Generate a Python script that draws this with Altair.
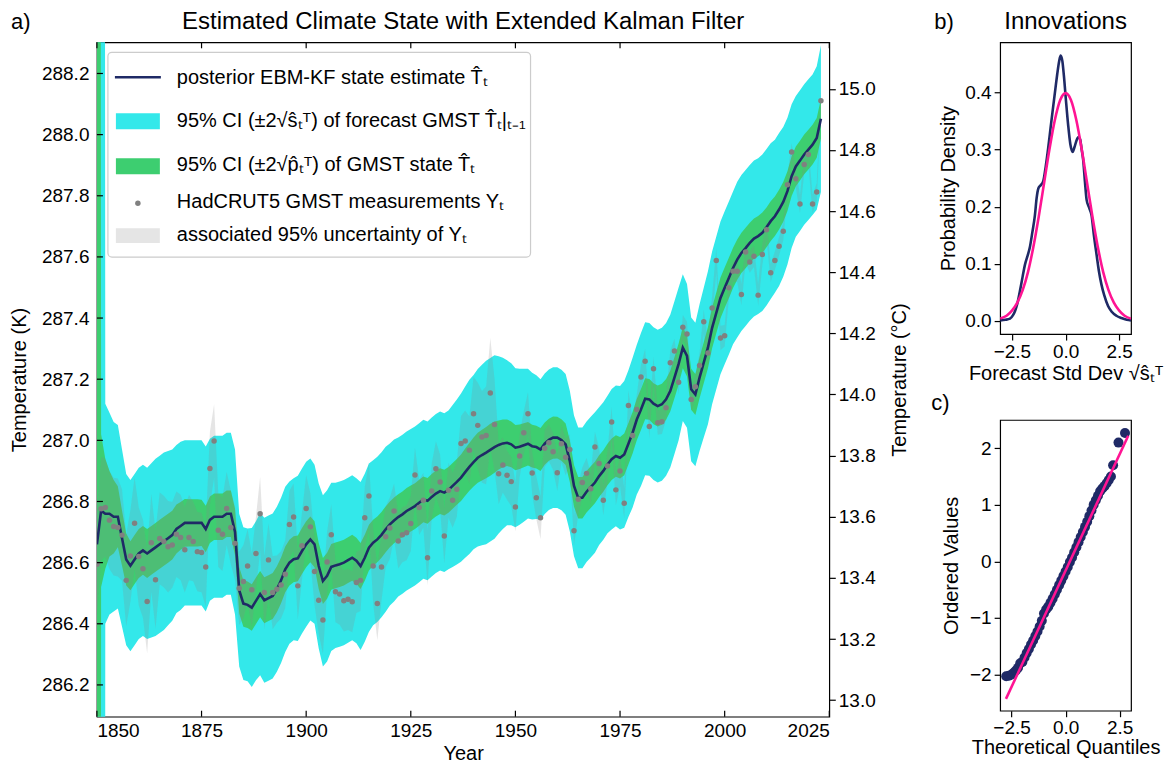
import altair as alt
import pandas as pd

FONT = "Liberation Sans"
NAVY = "#1f2a66"
CYAN = "#33e8ea"
GREEN = "#3dce70"
MAGENTA = "#ff1493"
DOTGRAY = "#808080"

# ---------------- data ----------------
years = list(range(1850, 2024))

state = [
    286.66, 286.77, 286.76, 286.76, 286.75, 286.75, 286.68, 286.61, 286.59, 286.61,
    286.63, 286.64, 286.63, 286.64, 286.65, 286.66, 286.67, 286.68, 286.69, 286.71,
    286.72, 286.73, 286.73, 286.73, 286.73, 286.73, 286.71, 286.74, 286.75, 286.75,
    286.75, 286.76, 286.76, 286.70, 286.51, 286.466, 286.462, 286.453, 286.475, 286.497,
    286.477, 286.484, 286.491, 286.513, 286.542, 286.578, 286.600, 286.611, 286.614, 286.638,
    286.660, 286.676, 286.660, 286.589, 286.540, 286.557, 286.586, 286.591, 286.595, 286.600,
    286.608, 286.616, 286.606, 286.589, 286.616, 286.649, 286.665, 286.676, 286.691, 286.709,
    286.725, 286.738, 286.749, 286.758, 286.769, 286.777, 286.785, 286.796, 286.807, 286.802,
    286.815, 286.826, 286.834, 286.829, 286.838, 286.851, 286.864, 286.878, 286.896, 286.913,
    286.929, 286.943, 286.952, 286.960, 286.969, 286.978, 286.985, 286.990, 286.992, 286.987,
    286.976, 286.979, 286.984, 286.989, 286.981, 286.978, 286.970, 286.989, 287.002, 287.009,
    287.009, 287.001, 286.987, 286.932, 286.851, 286.812, 286.812, 286.832, 286.847, 286.862,
    286.883, 286.900, 286.921, 286.938, 286.949, 286.943, 286.954, 286.989, 287.025, 287.068,
    287.101, 287.136, 287.134, 287.120, 287.112, 287.118, 287.134, 287.161, 287.205, 287.250,
    287.303, 287.276, 287.167, 287.150, 287.205, 287.254, 287.303, 287.368, 287.417, 287.466,
    287.499, 287.531, 287.564, 287.591, 287.613, 287.629, 287.646, 287.660, 287.668, 287.679,
    287.697, 287.717, 287.733, 287.755, 287.780, 287.815, 287.864, 287.896, 287.915, 287.935,
    287.951, 287.967, 287.989, 288.052,
]

meas = [
    286.595, 286.776, 286.780, 286.739, 286.718, 286.715, 286.690, 286.542, 286.622, 286.729,
    286.620, 286.580, 286.473, 286.665, 286.544, 286.679, 286.669, 286.652, 286.658, 286.693,
    286.682, 286.642, 286.682, 286.669, 286.636, 286.633, 286.586, 286.908, 286.998, 286.706,
    286.693, 286.777, 286.715, 286.663, 286.516, 286.538, 286.589, 286.511, 286.630, 286.760,
    286.502, 286.609, 286.502, 286.513, 286.527, 286.562, 286.725, 286.749, 286.524, 286.655,
    286.777, 286.717, 286.571, 286.477, 286.412, 286.602, 286.691, 286.505, 286.497, 286.475,
    286.480, 286.472, 286.535, 286.542, 286.747, 286.818, 286.589, 286.466, 286.586, 286.685,
    286.713, 286.769, 286.671, 286.691, 286.698, 286.728, 286.887, 286.780, 286.804, 286.616,
    286.834, 286.907, 286.864, 286.687, 286.837, 286.804, 286.840, 286.990, 286.998, 286.968,
    287.087, 287.049, 287.011, 287.016, 287.155, 287.052, 286.891, 286.919, 286.886, 286.865,
    286.782, 286.949, 287.025, 287.087, 286.893, 286.812, 286.747, 286.974, 286.992, 286.963,
    286.894, 286.989, 286.945, 286.970, 286.704, 286.807, 286.862, 286.892, 286.842, 286.978,
    286.924, 286.804, 286.916, 287.060, 286.838, 286.900, 286.794, 287.114, 287.016, 287.101,
    287.207, 287.259, 287.045, 287.234, 287.058, 287.061, 287.107, 287.254, 287.292, 287.190,
    287.370, 287.348, 287.134, 287.175, 287.245, 287.388, 287.286, 287.433, 287.588, 287.335,
    287.342, 287.499, 287.553, 287.553, 287.477, 287.616, 287.583, 287.602, 287.475, 287.608,
    287.689, 287.548, 287.588, 287.635, 287.684, 287.836, 287.943, 287.856, 287.773, 287.902,
    287.935, 287.773, 287.812, 288.111,
]

# half-width of the grey 95% measurement uncertainty
meas_unc = [
    0.17, 0.17, 0.16, 0.16, 0.16, 0.16, 0.15, 0.15, 0.15, 0.15,
    0.16, 0.16, 0.17, 0.16, 0.16, 0.15, 0.15, 0.15, 0.14, 0.14,
    0.14, 0.14, 0.14, 0.13, 0.13, 0.13, 0.13, 0.12, 0.12, 0.12,
    0.12, 0.12, 0.12, 0.12, 0.12, 0.12, 0.12, 0.12, 0.12, 0.12,
    0.12, 0.12, 0.12, 0.11, 0.11, 0.11, 0.11, 0.11, 0.11, 0.11,
    0.11, 0.11, 0.11, 0.11, 0.11, 0.10, 0.10, 0.10, 0.10, 0.10,
    0.10, 0.10, 0.10, 0.10, 0.10, 0.11, 0.12, 0.12, 0.11, 0.10,
    0.10, 0.09, 0.09, 0.09, 0.09, 0.09, 0.09, 0.09, 0.09, 0.09,
    0.09, 0.09, 0.09, 0.09, 0.09, 0.09, 0.09, 0.09, 0.10, 0.11,
    0.12, 0.14, 0.15, 0.16, 0.18, 0.15, 0.10, 0.09, 0.08, 0.08,
    0.08, 0.07, 0.07, 0.07, 0.07, 0.07, 0.07, 0.06, 0.06, 0.06,
    0.06, 0.06, 0.06, 0.05, 0.05, 0.05, 0.05, 0.05, 0.05, 0.05,
    0.05, 0.05, 0.05, 0.05, 0.05, 0.05, 0.05, 0.05, 0.05, 0.05,
    0.04, 0.04, 0.04, 0.04, 0.04, 0.04, 0.04, 0.04, 0.04, 0.04,
    0.04, 0.04, 0.04, 0.04, 0.04, 0.04, 0.04, 0.04, 0.04, 0.04,
    0.035, 0.035, 0.035, 0.035, 0.035, 0.035, 0.035, 0.035, 0.035, 0.035,
    0.03, 0.03, 0.03, 0.03, 0.03, 0.03, 0.03, 0.03, 0.03, 0.03,
    0.03, 0.03, 0.03, 0.03,
]

# half-width of the green state CI (2*sqrt(p))
state_ci = [
    20.0, 0.25, 0.18, 0.14, 0.12, 0.10, 0.09, 0.085, 0.08, 0.08,
    0.08, 0.08, 0.08, 0.08, 0.08, 0.08, 0.08, 0.08, 0.08, 0.08,
    0.078, 0.078, 0.077, 0.077, 0.077, 0.076, 0.076, 0.076, 0.076, 0.076,
    0.076, 0.076, 0.076, 0.076, 0.076, 0.076, 0.076, 0.076, 0.076, 0.076,
    0.075, 0.075, 0.075, 0.075, 0.075, 0.075, 0.075, 0.075, 0.075, 0.075,
    0.075, 0.075, 0.075, 0.075, 0.075, 0.075, 0.075, 0.075, 0.075, 0.075,
    0.075, 0.075, 0.075, 0.075, 0.075, 0.075, 0.075, 0.075, 0.075, 0.075,
    0.075, 0.075, 0.075, 0.075, 0.075, 0.075, 0.075, 0.075, 0.075, 0.075,
    0.075, 0.075, 0.075, 0.075, 0.075, 0.075, 0.075, 0.076, 0.077, 0.078,
    0.080, 0.082, 0.083, 0.084, 0.085, 0.084, 0.080, 0.078, 0.076, 0.075,
    0.074, 0.073, 0.072, 0.071, 0.070, 0.070, 0.070, 0.069, 0.069, 0.069,
    0.068, 0.068, 0.068, 0.068, 0.068, 0.068, 0.068, 0.068, 0.068, 0.068,
    0.068, 0.068, 0.068, 0.068, 0.068, 0.068, 0.068, 0.068, 0.068, 0.068,
    0.067, 0.067, 0.067, 0.067, 0.067, 0.067, 0.067, 0.067, 0.067, 0.067,
    0.067, 0.067, 0.067, 0.067, 0.067, 0.067, 0.067, 0.067, 0.067, 0.067,
    0.066, 0.066, 0.066, 0.066, 0.066, 0.066, 0.066, 0.066, 0.066, 0.066,
    0.065, 0.065, 0.065, 0.065, 0.065, 0.065, 0.065, 0.065, 0.065, 0.065,
    0.065, 0.065, 0.065, 0.065,
]

# half-width of the cyan forecast CI (2*sqrt(s))
fc_ci = [
    20.0, 20.0, 0.36, 0.33, 0.31, 0.30, 0.29, 0.28, 0.28, 0.28,
    0.28, 0.28, 0.28, 0.285, 0.29, 0.29, 0.29, 0.285, 0.28, 0.275,
    0.275, 0.27, 0.27, 0.27, 0.27, 0.27, 0.27, 0.265, 0.265, 0.265,
    0.265, 0.265, 0.265, 0.27, 0.25, 0.25, 0.25, 0.26, 0.26, 0.265,
    0.27, 0.27, 0.27, 0.27, 0.27, 0.27, 0.265, 0.265, 0.27, 0.27,
    0.27, 0.265, 0.26, 0.27, 0.28, 0.28, 0.275, 0.27, 0.27, 0.27,
    0.27, 0.27, 0.27, 0.275, 0.275, 0.275, 0.27, 0.27, 0.27, 0.27,
    0.265, 0.265, 0.26, 0.26, 0.26, 0.26, 0.26, 0.26, 0.26, 0.26,
    0.26, 0.26, 0.26, 0.26, 0.26, 0.265, 0.27, 0.275, 0.28, 0.285,
    0.285, 0.29, 0.295, 0.30, 0.30, 0.30, 0.29, 0.28, 0.27, 0.265,
    0.26, 0.255, 0.25, 0.245, 0.24, 0.235, 0.23, 0.23, 0.23, 0.23,
    0.23, 0.23, 0.23, 0.23, 0.23, 0.23, 0.23, 0.23, 0.23, 0.23,
    0.225, 0.225, 0.225, 0.23, 0.23, 0.235, 0.24, 0.24, 0.245, 0.245,
    0.25, 0.25, 0.25, 0.25, 0.25, 0.25, 0.25, 0.25, 0.25, 0.25,
    0.24, 0.235, 0.235, 0.235, 0.24, 0.245, 0.25, 0.25, 0.25, 0.25,
    0.25, 0.25, 0.25, 0.255, 0.255, 0.255, 0.255, 0.255, 0.255, 0.256,
    0.256, 0.255, 0.25, 0.25, 0.245, 0.24, 0.235, 0.23, 0.23, 0.23,
    0.23, 0.23, 0.235, 0.24,
]

x_ticks = [1850, 1875, 1900, 1925, 1950, 1975, 2000, 2025]
k_ticks = [286.2, 286.4, 286.6, 286.8, 287.0, 287.2, 287.4, 287.6, 287.8, 288.0, 288.2]
c_ticks = [13.0, 13.2, 13.4, 13.6, 13.8, 14.0, 14.2, 14.4, 14.6, 14.8, 15.0]
k_domain = [286.096, 288.302]
c_domain = [286.096 - 273.15, 288.302 - 273.15]

# panel b: kernel density of innovations and standard normal reference
kde_x = [-3.05, -2.8, -2.59, -2.45, -2.36, -2.25, -2.13, -2.0, -1.89, -1.78, -1.66, -1.55,
         -1.43, -1.35, -1.27, -1.15, -1.04, -0.92, -0.81, -0.7, -0.58, -0.48, -0.39, -0.3,
         -0.23, -0.15, -0.08, 0.02, 0.12, 0.22, 0.33, 0.42, 0.51, 0.6, 0.68, 0.75, 0.82,
         0.9, 0.98, 1.1, 1.21, 1.32, 1.44, 1.55, 1.67, 1.8, 1.98, 2.15, 2.37, 2.6, 2.85, 3.05]
kde_y = [0.001, 0.002, 0.004, 0.010, 0.017, 0.030, 0.052, 0.078, 0.099, 0.113, 0.130, 0.155,
         0.185, 0.215, 0.232, 0.238, 0.245, 0.272, 0.303, 0.338, 0.375, 0.405, 0.432, 0.455,
         0.465, 0.455, 0.430, 0.385, 0.343, 0.310, 0.296, 0.305, 0.316, 0.322, 0.318, 0.300,
         0.282, 0.245, 0.212, 0.198, 0.185, 0.150, 0.117, 0.088, 0.064, 0.045, 0.026, 0.016,
         0.009, 0.005, 0.002, 0.001]
norm_x = [-3.05, -2.75, -2.5, -2.25, -2.0, -1.75, -1.5, -1.25, -1.0, -0.75, -0.5, -0.25, 0.0,
          0.25, 0.5, 0.75, 1.0, 1.25, 1.5, 1.75, 2.0, 2.25, 2.5, 2.75, 3.05]
norm_y = [0.004, 0.009, 0.018, 0.032, 0.054, 0.086, 0.130, 0.183, 0.242, 0.301, 0.352, 0.387,
          0.399, 0.387, 0.352, 0.301, 0.242, 0.183, 0.130, 0.086, 0.054, 0.032, 0.018, 0.009,
          0.004]

# panel c: QQ plot
qq_q = [-2.75, -2.62, -2.5, -2.4, -2.3, -2.2, -2.1, -2.0, -1.9, -1.8, -1.7, -1.6, -1.5, -1.4,
        -1.3, -1.2, -1.1, -1.0, -0.9, -0.8, -0.7, -0.6, -0.5, -0.4, -0.3, -0.2, -0.1, 0.0,
        0.1, 0.2, 0.3, 0.4, 0.5, 0.6, 0.7, 0.8, 0.9, 1.0, 1.1, 1.2, 1.3, 1.4, 1.5, 1.6, 1.7,
        1.8, 1.9, 2.0, 2.1, 2.2, 2.45, 2.75]
qq_v = [-2.03, -2.02, -2.0, -1.97, -1.93, -1.88, -1.80, -1.78, -1.70, -1.62, -1.55, -1.47,
        -1.40, -1.32, -1.24, -1.15, -1.05, -0.92, -0.85, -0.80, -0.73, -0.66, -0.58, -0.50,
        -0.42, -0.34, -0.26, -0.18, -0.10, -0.01, 0.07, 0.16, 0.25, 0.34, 0.43, 0.52, 0.61,
        0.70, 0.80, 0.90, 1.00, 1.08, 1.16, 1.24, 1.29, 1.33, 1.38, 1.44, 1.50, 1.70, 2.10, 2.27]
qq_line_q = [-2.76, 2.9]
qq_line_v = [-2.43, 2.22]

legend_labels = [
    "posterior EBM-KF state estimate T\u0302\u209c",
    "95% CI (\u00b12\u221as\u0302\u209c\u1d40) of forecast GMST T\u0302\u209c|\u209c\u208b\u2081",
    "95% CI (\u00b12\u221ap\u0302\u209c\u1d40) of GMST state T\u0302\u209c",
    "HadCRUT5 GMST measurements Y\u209c",
    "associated 95% uncertainty of Y\u209c",
]

# ---------------- table ----------------
df = pd.DataFrame({"year": years, "state": state, "meas": meas,
                   "mu": meas_unc, "sc": state_ci, "fc": fc_ci})
df["fc_lo"] = df["state"] - df["fc"]
df["fc_hi"] = df["state"] + df["fc"]
df["st_lo"] = df["state"] - df["sc"]
df["st_hi"] = df["state"] + df["sc"]
df["m_lo"] = df["meas"] - df["mu"]
df["m_hi"] = df["meas"] + df["mu"]


def label(text, x, y, size=22, align="left"):
    return alt.Chart(pd.DataFrame({"label": [text]})).mark_text(
        align=align, baseline="middle", fontSize=size, font=FONT, color="black").encode(
        x=alt.value(x), y=alt.value(y), text="label:N")


W, H = 733, 675
xs = alt.Scale(domain=[1850, 2025], nice=False, zero=False)
ys = alt.Scale(domain=k_domain, nice=False, zero=False)
x_axis = alt.Axis(values=x_ticks, format="d", title="Year", ticks=False, domain=False,
                  labelPadding=5, titlePadding=3)
y_axis = alt.Axis(values=k_ticks, format=".1f", title="Temperature (K)", ticks=False,
                  domain=False, labelPadding=8, titlePadding=12)

base = alt.Chart(df)
X = alt.X("year:Q", scale=xs, axis=x_axis)

cyan_band = base.mark_area(color=CYAN, opacity=1, clip=True).encode(
    x=X, y=alt.Y("fc_lo:Q", scale=ys, axis=y_axis), y2="fc_hi:Q")
green_band = base.mark_area(color=GREEN, opacity=1, clip=True).encode(
    x=X, y=alt.Y("st_lo:Q", scale=ys, axis=y_axis), y2="st_hi:Q")
grey_band = base.mark_area(color="#888888", opacity=0.22, clip=True).encode(
    x=X, y=alt.Y("m_lo:Q", scale=ys, axis=y_axis), y2="m_hi:Q")
state_line = base.mark_line(color=NAVY, strokeWidth=2.6, clip=True).encode(
    x=X, y=alt.Y("state:Q", scale=ys, axis=y_axis))
meas_pts = base.mark_circle(color=DOTGRAY, size=30, opacity=1, clip=True).encode(
    x=X, y=alt.Y("meas:Q", scale=ys, axis=y_axis))

# inward ticks (left, bottom, top)
kt = pd.DataFrame({"t": k_ticks})
xt = pd.DataFrame({"v": x_ticks})
left_ticks = alt.Chart(kt).mark_rule(color="black", strokeWidth=1.2).encode(
    y=alt.Y("t:Q", scale=ys, axis=y_axis), x=alt.value(0), x2=alt.value(6))
bottom_ticks = alt.Chart(xt).mark_rule(color="black", strokeWidth=1.2).encode(
    x=alt.X("v:Q", scale=xs, axis=x_axis), y=alt.value(H), y2=alt.value(H - 6))
top_ticks = alt.Chart(xt).mark_rule(color="black", strokeWidth=1.2).encode(
    x=alt.X("v:Q", scale=xs, axis=x_axis), y=alt.value(0), y2=alt.value(6))

# legend (drawn inside the plot, top-left)
one = pd.DataFrame({"k": [0]})
leg_bg = alt.Chart(one).mark_rect(fill="white", fillOpacity=0.85, stroke="#cccccc",
                                  strokeWidth=1.2, cornerRadius=4).encode(
    x=alt.value(11), x2=alt.value(434), y=alt.value(10), y2=alt.value(215))
leg_line = alt.Chart(one).mark_rule(color=NAVY, strokeWidth=2.6).encode(
    x=alt.value(18), x2=alt.value(64), y=alt.value(35))
leg_cyan = alt.Chart(one).mark_rect(color=CYAN).encode(
    x=alt.value(19), x2=alt.value(63), y=alt.value(71), y2=alt.value(87))
leg_green = alt.Chart(one).mark_rect(color=GREEN).encode(
    x=alt.value(19), x2=alt.value(63), y=alt.value(116), y2=alt.value(132))
leg_dot = alt.Chart(one).mark_circle(color=DOTGRAY, size=30, opacity=1).encode(
    x=alt.value(41), y=alt.value(161))
leg_grey = alt.Chart(one).mark_rect(color="#888888", opacity=0.22).encode(
    x=alt.value(19), x2=alt.value(63), y=alt.value(186), y2=alt.value(201))
row_y = [36, 79, 123, 160, 193]
leg_texts = [label(lab, 80, yy, size=20) for lab, yy in zip(legend_labels, row_y)]

inner = alt.layer(cyan_band, green_band, grey_band, state_line, meas_pts,
                  left_ticks, bottom_ticks, top_ticks,
                  leg_bg, leg_line, leg_cyan, leg_green, leg_dot, leg_grey, *leg_texts,
                  label("a)", -86, -20),
                  label("Estimated Climate State with Extended Kalman Filter", W / 2, -20,
                        size=24, align="center"))

cel = alt.Chart(pd.DataFrame({"c": c_domain})).mark_point(opacity=0).encode(
    y=alt.Y("c:Q", scale=alt.Scale(domain=c_domain, nice=False, zero=False),
            axis=alt.Axis(orient="right", values=c_ticks, format=".1f",
                          title="Temperature (\u00b0C)", titleAngle=270, titleBaseline="top",
                          tickSize=6, domain=False, labelPadding=3, titlePadding=14)))

main = alt.layer(inner, cel).resolve_scale(y="independent").properties(width=W, height=H)

# ---------------- panel b ----------------
bx = alt.Scale(domain=[-3.05, 3.05], nice=False, zero=False)
by = alt.Scale(domain=[-0.023, 0.488], nice=False, zero=False)
bx_axis = alt.Axis(values=[-2.5, 0.0, 2.5], format=".1f",
                   title="Forecast Std Dev \u221as\u0302\u209c\u1d40", tickSize=6, domain=False,
                   labelPadding=2, titlePadding=2)
by_axis = alt.Axis(values=[0.0, 0.1, 0.2, 0.3, 0.4], format=".1f", title="Probability Density",
                   tickSize=6, domain=False, labelPadding=3, titlePadding=6)
kde_df = pd.DataFrame({"x": kde_x, "y": kde_y})
norm_df = pd.DataFrame({"x": norm_x, "y": norm_y})
b_kde = alt.Chart(kde_df).mark_line(color=NAVY, strokeWidth=2.6, interpolate="monotone",
                                    clip=True).encode(
    x=alt.X("x:Q", scale=bx, axis=bx_axis), y=alt.Y("y:Q", scale=by, axis=by_axis))
b_norm = alt.Chart(norm_df).mark_line(color=MAGENTA, strokeWidth=2.6, interpolate="monotone",
                                      clip=True).encode(
    x=alt.X("x:Q", scale=bx, axis=bx_axis), y=alt.Y("y:Q", scale=by, axis=by_axis))
panel_b = alt.layer(b_kde, b_norm, label("b)", -66, -20),
                    label("Innovations", 65.5, -20, size=24, align="center")).properties(
    width=131, height=292)

# ---------------- panel c ----------------
cx = alt.Scale(domain=[-3.03, 3.03], nice=False, zero=False)
cy = alt.Scale(domain=[-2.64, 2.5], nice=False, zero=False)
cx_axis = alt.Axis(values=[-2.5, 0.0, 2.5], format=".1f", title="Theoretical Quantiles",
                   tickSize=6, domain=False, labelPadding=2, titlePadding=0)
cy_axis = alt.Axis(values=[-2, -1, 0, 1, 2], format="d", title="Ordered Values",
                   tickSize=6, domain=False, labelPadding=3, titlePadding=8)
qq_df = pd.DataFrame({"q": qq_q, "v": qq_v})
qql_df = pd.DataFrame({"q": qq_line_q, "v": qq_line_v})
c_pts = alt.Chart(qq_df).mark_circle(color=NAVY, size=100, opacity=1).encode(
    x=alt.X("q:Q", scale=cx, axis=cx_axis), y=alt.Y("v:Q", scale=cy, axis=cy_axis))
c_line = alt.Chart(qql_df).mark_line(color=MAGENTA, strokeWidth=2.6).encode(
    x=alt.X("q:Q", scale=cx, axis=cx_axis), y=alt.Y("v:Q", scale=cy, axis=cy_axis))
panel_c = alt.layer(c_pts, c_line, label("c)", -69, -17)).properties(width=131, height=291)

right = alt.vconcat(panel_b, panel_c, spacing=7)

chart = alt.hconcat(main, right, spacing=20).properties(
    padding={"left": 0, "top": 1, "right": 0, "bottom": 0}
).configure(font=FONT).configure_view(
    stroke="black", strokeWidth=1.2
).configure_axis(
    labelFont=FONT, titleFont=FONT, labelFontSize=19, titleFontSize=20,
    labelColor="black", titleColor="black", tickColor="black", tickWidth=1.2,
    grid=False, titleFontWeight="normal"
)

chart.save("out.html", embed_options={"renderer": "svg", "actions": False})
